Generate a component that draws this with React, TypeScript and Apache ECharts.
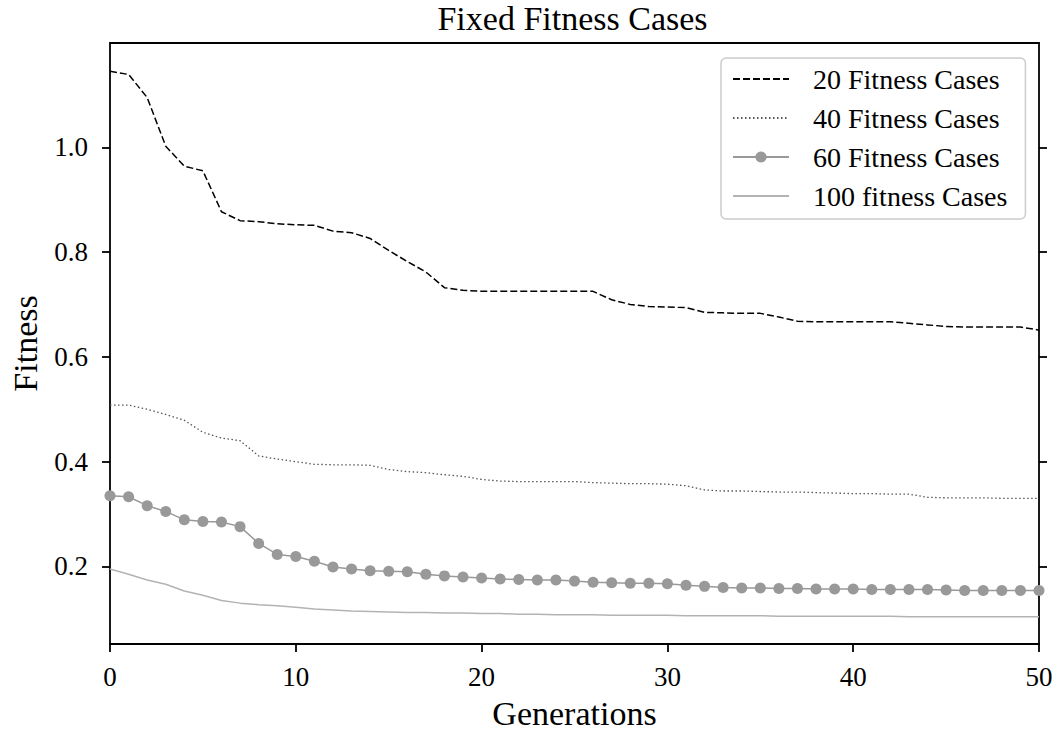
import React, { useEffect, useRef } from "react";
import * as echarts from "echarts";

const generations = [
  0, 1, 2, 3, 4, 5, 6, 7, 8, 9, 10, 11, 12, 13, 14, 15, 16, 17, 18, 19, 20,
  21, 22, 23, 24, 25, 26, 27, 28, 29, 30, 31, 32, 33, 34, 35, 36, 37, 38, 39,
  40, 41, 42, 43, 44, 45, 46, 47, 48, 49, 50,
];
const yTicks = [0.2, 0.4, 0.6, 0.8, 1.0];
const seriesNames = [
  "20 Fitness Cases",
  "40 Fitness Cases",
  "60 Fitness Cases",
  "100 fitness Cases",
];

const fit20 = [
  1.145, 1.139, 1.095, 1.002, 0.964, 0.955, 0.877, 0.86, 0.858, 0.854, 0.852,
  0.851, 0.84, 0.837, 0.826, 0.803, 0.782, 0.762, 0.732, 0.727, 0.725, 0.725,
  0.725, 0.725, 0.725, 0.725, 0.725, 0.709, 0.7, 0.696, 0.695, 0.694, 0.685,
  0.684, 0.683, 0.683, 0.676, 0.668, 0.667, 0.667, 0.667, 0.667, 0.667, 0.664,
  0.661, 0.658, 0.657, 0.657, 0.657, 0.657, 0.651,
];
const fit40 = [
  0.508, 0.508, 0.5, 0.49, 0.479, 0.456, 0.445, 0.44, 0.411, 0.405, 0.4, 0.395,
  0.394, 0.394, 0.393, 0.385, 0.381, 0.379, 0.375, 0.372, 0.366, 0.363, 0.362,
  0.362, 0.362, 0.362, 0.36, 0.359, 0.358, 0.358, 0.357, 0.354, 0.346, 0.344,
  0.344, 0.343, 0.342, 0.342, 0.341, 0.34, 0.339, 0.339, 0.338, 0.338, 0.332,
  0.331, 0.331, 0.331, 0.33, 0.33, 0.33,
];
const fit60 = [
  0.335, 0.333, 0.316, 0.305, 0.289, 0.286, 0.285, 0.276, 0.244, 0.223, 0.219,
  0.21, 0.199, 0.195, 0.192, 0.191, 0.19, 0.185, 0.182, 0.18, 0.178, 0.176,
  0.175, 0.174, 0.174, 0.172, 0.17, 0.169, 0.168, 0.168, 0.167, 0.164, 0.162,
  0.16, 0.159, 0.159, 0.158, 0.158, 0.157, 0.157, 0.157, 0.156, 0.156, 0.156,
  0.156, 0.155, 0.154, 0.154, 0.154, 0.154, 0.154,
];
const fit100 = [
  0.195, 0.185, 0.174, 0.166, 0.153, 0.145, 0.135, 0.13, 0.127, 0.125, 0.122,
  0.119, 0.117, 0.115, 0.114, 0.113, 0.112, 0.112, 0.111, 0.111, 0.11, 0.11,
  0.109, 0.109, 0.108, 0.108, 0.108, 0.107, 0.107, 0.107, 0.107, 0.106, 0.106,
  0.106, 0.106, 0.106, 0.105, 0.105, 0.105, 0.105, 0.105, 0.105, 0.105, 0.104,
  0.104, 0.104, 0.104, 0.104, 0.104, 0.104, 0.104,
];

const FONT = "'Liberation Serif', 'Times New Roman', serif";

export default function App() {
  const ref = useRef<HTMLDivElement>(null);
  useEffect(() => {
    document.body.style.margin = "0";
    const chart = echarts.init(ref.current!, null, { renderer: "svg" });
    const pair = (arr: number[]) => generations.map((g, i) => [g, arr[i]]);
    const axisLine = {
      show: true,
      onZero: false,
      lineStyle: { color: "#000", width: 1.8 },
    };
    const tickStyle = { color: "#000", width: 1.8 };
    const hiddenSymbol = { opacity: 0 };
    chart.setOption({
      animation: false,
      graphic: [
        {
          type: "text",
          x: 572.5,
          y: 18,
          style: {
            text: "Fixed Fitness Cases",
            fill: "#000",
            fontSize: 34,
            fontFamily: FONT,
            align: "center",
            verticalAlign: "middle",
          },
        },
      ],
      grid: { left: 106, right: 20, top: 43, bottom: 86 },
      legend: {
        orient: "vertical",
        left: 721,
        top: 58,
        itemWidth: 56,
        itemHeight: 14,
        itemGap: 11,
        padding: [7, 18, 9, 11],
        backgroundColor: "rgba(255,255,255,0.8)",
        borderColor: "#cccccc",
        borderWidth: 1.5,
        borderRadius: 5,
        textStyle: {
          fontFamily: FONT,
          fontSize: 28,
          color: "#000",
          lineHeight: 28,
          padding: [0, 0, 0, 19],
        },
        data: [
          { name: seriesNames[0], itemStyle: hiddenSymbol },
          { name: seriesNames[1], itemStyle: hiddenSymbol },
          { name: seriesNames[2] },
          { name: seriesNames[3], itemStyle: hiddenSymbol },
        ],
      },
      xAxis: [
        {
          type: "value",
          min: 0,
          max: 50,
          interval: 10,
          position: "bottom",
          axisLine,
          axisTick: { show: true, length: 8, lineStyle: tickStyle },
          axisLabel: {
            color: "#000",
            fontFamily: FONT,
            fontSize: 27,
            margin: 19,
          },
          splitLine: { show: false },
          name: "Generations",
          nameLocation: "middle",
          nameGap: 52,
          nameTextStyle: { color: "#000", fontFamily: FONT, fontSize: 34 },
        },
        {
          type: "value",
          min: 0,
          max: 50,
          position: "top",
          axisLine,
          axisTick: { show: false },
          axisLabel: { show: false },
          splitLine: { show: false },
        },
      ],
      yAxis: [
        {
          type: "value",
          min: 0.052,
          max: 1.199,
          position: "left",
          axisLine,
          axisTick: {
            show: true,
            length: 8,
            customValues: yTicks,
            lineStyle: tickStyle,
          },
          axisLabel: {
            customValues: yTicks,
            formatter: (v: number) => v.toFixed(1),
            color: "#000",
            fontFamily: FONT,
            fontSize: 27,
            margin: 22,
          },
          splitLine: { show: false },
          name: "Fitness",
          nameLocation: "middle",
          nameRotate: 90,
          nameGap: 68,
          nameTextStyle: { color: "#000", fontFamily: FONT, fontSize: 34 },
        },
        {
          type: "value",
          min: 0.052,
          max: 1.199,
          position: "right",
          axisLine,
          axisTick: {
            show: true,
            length: 8,
            customValues: yTicks,
            lineStyle: tickStyle,
          },
          axisLabel: { show: false, customValues: yTicks },
          splitLine: { show: false },
        },
      ],
      series: [
        {
          name: seriesNames[0],
          type: "line",
          data: pair(fit20),
          symbol: "none",
          lineStyle: { color: "#000", width: 1.5, type: [7, 3] },
          itemStyle: { color: "#000" },
        },
        {
          name: seriesNames[1],
          type: "line",
          data: pair(fit40),
          symbol: "none",
          lineStyle: { color: "#555", width: 1.3, type: [1.5, 2.5] },
          itemStyle: { color: "#555" },
        },
        {
          name: seriesNames[2],
          type: "line",
          data: pair(fit60),
          symbol: "circle",
          symbolSize: 11,
          showSymbol: true,
          lineStyle: { color: "#999", width: 1.5 },
          itemStyle: { color: "#999" },
        },
        {
          name: seriesNames[3],
          type: "line",
          data: pair(fit100),
          symbol: "none",
          lineStyle: { color: "#b3b3b3", width: 1.5 },
          itemStyle: { color: "#b3b3b3" },
        },
      ],
    });
    return () => chart.dispose();
  }, []);
  return <div ref={ref} style={{ width: 1059, height: 735 }} />;
}
